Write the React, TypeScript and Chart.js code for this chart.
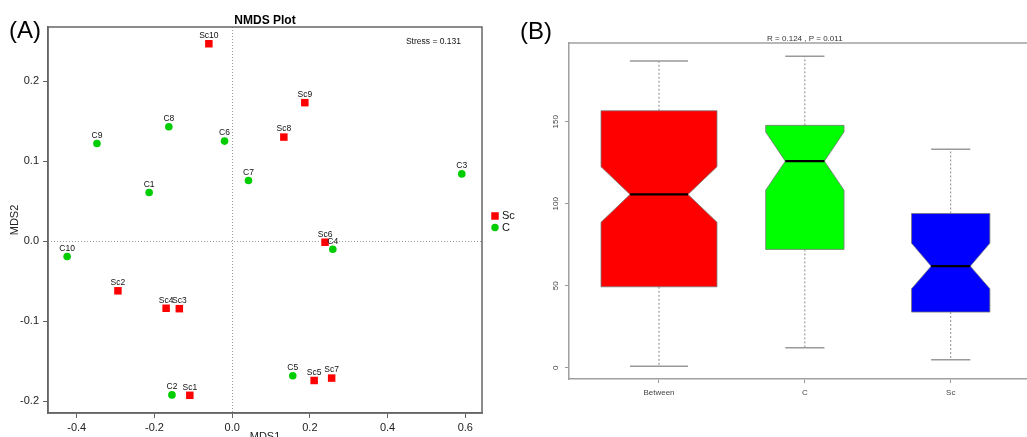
import React, { useEffect, useRef } from 'react';
import { Chart, registerables } from 'chart.js';
Chart.register(...registerables);

// ---------- Panel A data (NMDS) ----------
const scLabels = ['Sc1', 'Sc2', 'Sc3', 'Sc4', 'Sc5', 'Sc6', 'Sc7', 'Sc8', 'Sc9', 'Sc10'];
const scX = [-0.109, -0.294, -0.136, -0.170, 0.211, 0.239, 0.256, 0.133, 0.187, -0.060];
const scY = [-0.1925, -0.062, -0.0843, -0.0838, -0.174, -0.0013, -0.171, 0.130, 0.173, 0.2466];
const cLabels = ['C1', 'C2', 'C3', 'C4', 'C5', 'C6', 'C7', 'C8', 'C9', 'C10'];
const cX = [-0.2137, -0.155, 0.591, 0.259, 0.156, -0.0196, 0.042, -0.163, -0.348, -0.4247];
const cY = [0.0608, -0.192, 0.084, -0.010, -0.168, 0.125, 0.0758, 0.143, 0.122, -0.0192];
const nmdsXTicks = [-0.4, -0.2, 0.0, 0.2, 0.4, 0.6];
const nmdsYTicks = [-0.2, -0.1, 0.0, 0.1, 0.2];
const stressText = 'Stress = 0.131';

// ---------- Panel B data (ANOSIM boxplot) ----------
const boxCategories = ['Between', 'C', 'Sc'];
const whiskerLow = [1.0, 12.2, 5.0];
const q1 = [49.4, 72.2, 34.0];
const notchLow = [88.8, 108.3, 48.2];
const median = [105.7, 126.0, 62.0];
const notchHigh = [122.6, 143.8, 76.0];
const q3 = [156.7, 147.8, 94.1];
const whiskerHigh = [187.0, 190.0, 133.2];
const boxYTicks = [0, 50, 100, 150];
const anosimText = 'R = 0.124 , P = 0.011';

// styles
const FONT = '"Liberation Sans", Arial, Helvetica, sans-serif';
const RED = '#FF0000';
const GREEN = '#00CD00';
const BOX_COLORS = ['#FF0000', '#00FF00', '#0000FF'];
const BOX_WIDTH_UNITS = [0.795, 0.537, 0.537];

const nmdsPlugin = {
  id: 'nmdsExtras',
  beforeDatasetsDraw(chart: any) {
    const { ctx, chartArea: a, scales } = chart;
    const x0 = scales.x.getPixelForValue(0);
    const y0 = scales.y.getPixelForValue(0);
    ctx.save();
    ctx.strokeStyle = '#999';
    ctx.lineWidth = 1;
    ctx.setLineDash([1, 2]);
    ctx.beginPath();
    ctx.moveTo(Math.round(x0) + 0.5, a.top);
    ctx.lineTo(Math.round(x0) + 0.5, a.bottom);
    ctx.moveTo(a.left, Math.round(y0) + 0.5);
    ctx.lineTo(a.right, Math.round(y0) + 0.5);
    ctx.stroke();
    ctx.restore();
  },
  afterDatasetsDraw(chart: any) {
    const { ctx, chartArea: a } = chart;
    ctx.save();
    // point labels
    ctx.font = `8.5px ${FONT}`;
    ctx.fillStyle = '#111';
    ctx.textAlign = 'center';
    ctx.textBaseline = 'middle';
    const all = [scLabels, cLabels];
    chart.data.datasets.forEach((ds: any, di: number) => {
      const meta = chart.getDatasetMeta(di);
      meta.data.forEach((el: any, i: number) => {
        ctx.fillText(all[di][i], el.x, el.y - 8);
      });
    });
    // frame
    ctx.strokeStyle = '#666';
    ctx.lineWidth = 1.5;
    ctx.strokeRect(a.left, a.top, a.right - a.left, a.bottom - a.top);
    // title
    ctx.fillStyle = '#000';
    ctx.font = `bold 12px ${FONT}`;
    ctx.fillText('NMDS Plot', (a.left + a.right) / 2, 21);
    // stress
    ctx.font = `8.5px ${FONT}`;
    ctx.textAlign = 'right';
    ctx.fillStyle = '#111';
    ctx.fillText(stressText, 461, 42);
    // panel letter
    ctx.textAlign = 'left';
    ctx.fillStyle = '#000';
    ctx.font = `24px ${FONT}`;
    ctx.fillText('(A)', 9, 31);
    // axis titles
    ctx.font = `11px ${FONT}`;
    ctx.fillStyle = '#222';
    ctx.textAlign = 'center';
    ctx.textBaseline = 'top';
    ctx.fillText('MDS1', (a.left + a.right) / 2, 431);
    ctx.save();
    ctx.translate(15, (a.top + a.bottom) / 2);
    ctx.rotate(-Math.PI / 2);
    ctx.textBaseline = 'middle';
    ctx.fillText('MDS2', 0, 0);
    ctx.restore();
    // legend
    const lx = a.right + 13;
    ctx.fillStyle = RED;
    ctx.fillRect(lx - 3.75, 216 - 3.75, 7.5, 7.5);
    ctx.fillStyle = GREEN;
    ctx.beginPath();
    ctx.arc(lx, 227.5, 3.7, 0, Math.PI * 2);
    ctx.fill();
    ctx.fillStyle = '#111';
    ctx.textAlign = 'left';
    ctx.textBaseline = 'middle';
    ctx.font = `11px ${FONT}`;
    ctx.fillText('Sc', lx + 7, 216);
    ctx.fillText('C', lx + 7, 227.5);
    ctx.restore();
  },
};

const boxPlugin = {
  id: 'notchedBoxes',
  afterDatasetsDraw(chart: any) {
    const { ctx, chartArea: a, scales } = chart;
    const xs = scales.x;
    const ys = scales.y;
    ctx.save();
    // top frame line
    ctx.strokeStyle = '#a0a0a0';
    ctx.lineWidth = 1.5;
    ctx.beginPath();
    ctx.moveTo(a.left, a.top);
    ctx.lineTo(a.right, a.top);
    ctx.stroke();

    boxCategories.forEach((_, i) => {
      const cx = xs.getPixelForValue(i + 1);
      const hw = xs.getPixelForValue(i + 1 + BOX_WIDTH_UNITS[i] / 2) - cx;
      const py = (v: number) => ys.getPixelForValue(v);
      // whiskers
      ctx.strokeStyle = '#888';
      ctx.lineWidth = 1;
      ctx.setLineDash([2, 2]);
      ctx.beginPath();
      ctx.moveTo(cx, py(q3[i]));
      ctx.lineTo(cx, py(whiskerHigh[i]));
      ctx.moveTo(cx, py(q1[i]));
      ctx.lineTo(cx, py(whiskerLow[i]));
      ctx.stroke();
      ctx.setLineDash([]);
      ctx.strokeStyle = '#999';
      ctx.lineWidth = 1.5;
      ctx.beginPath();
      ctx.moveTo(cx - hw / 2, py(whiskerHigh[i]));
      ctx.lineTo(cx + hw / 2, py(whiskerHigh[i]));
      ctx.moveTo(cx - hw / 2, py(whiskerLow[i]));
      ctx.lineTo(cx + hw / 2, py(whiskerLow[i]));
      ctx.stroke();
      // notched box
      ctx.beginPath();
      ctx.moveTo(cx - hw, py(q1[i]));
      ctx.lineTo(cx - hw, py(notchLow[i]));
      ctx.lineTo(cx - hw / 2, py(median[i]));
      ctx.lineTo(cx - hw, py(notchHigh[i]));
      ctx.lineTo(cx - hw, py(q3[i]));
      ctx.lineTo(cx + hw, py(q3[i]));
      ctx.lineTo(cx + hw, py(notchHigh[i]));
      ctx.lineTo(cx + hw / 2, py(median[i]));
      ctx.lineTo(cx + hw, py(notchLow[i]));
      ctx.lineTo(cx + hw, py(q1[i]));
      ctx.closePath();
      ctx.fillStyle = BOX_COLORS[i];
      ctx.fill();
      ctx.strokeStyle = '#777';
      ctx.lineWidth = 0.8;
      ctx.stroke();
      // median
      ctx.strokeStyle = '#000';
      ctx.lineWidth = 2.2;
      ctx.beginPath();
      ctx.moveTo(cx - hw / 2, py(median[i]));
      ctx.lineTo(cx + hw / 2, py(median[i]));
      ctx.stroke();
    });

    // rotated y tick labels
    ctx.fillStyle = '#444';
    ctx.font = `8px ${FONT}`;
    ctx.textAlign = 'center';
    ctx.textBaseline = 'middle';
    boxYTicks.forEach((v) => {
      ctx.save();
      ctx.translate(a.left - 13, ys.getPixelForValue(v));
      ctx.rotate(-Math.PI / 2);
      ctx.fillText(String(v), 0, 0);
      ctx.restore();
    });
    // title
    ctx.fillStyle = '#333';
    ctx.fillText(anosimText, xs.getPixelForValue(2), 39);
    // panel letter
    ctx.fillStyle = '#000';
    ctx.font = `24px ${FONT}`;
    ctx.textAlign = 'left';
    ctx.fillText('(B)', 20, 32);
    ctx.restore();
  },
};

function NmdsChart() {
  const ref = useRef<HTMLCanvasElement>(null);
  useEffect(() => {
    if (!ref.current) return;
    const chart = new Chart(ref.current, {
      type: 'scatter',
      data: {
        datasets: [
          {
            label: 'Sc',
            data: scX.map((x, i) => ({ x, y: scY[i] })),
            pointStyle: 'rect',
            pointRadius: 5.3,
            backgroundColor: RED,
            borderWidth: 0,
          },
          {
            label: 'C',
            data: cX.map((x, i) => ({ x, y: cY[i] })),
            pointStyle: 'circle',
            pointRadius: 3.8,
            backgroundColor: GREEN,
            borderWidth: 0,
          },
        ],
      },
      options: {
        responsive: false,
        animation: false,
        layout: { padding: { top: 27, right: 48, left: 0, bottom: 0 } },
        plugins: { legend: { display: false }, tooltip: { enabled: false } },
        scales: {
          x: {
            type: 'linear',
            min: -0.474,
            max: 0.643,
            afterBuildTicks: (s: any) => { s.ticks = nmdsXTicks.map((v) => ({ value: v })); },
            afterFit: (s: any) => { s.height = 24; },
            grid: { drawOnChartArea: false, drawTicks: true, tickLength: 5, color: '#666' },
            border: { display: true, color: '#666', width: 1.5 },
            ticks: {
              font: { family: FONT, size: 11 },
              color: '#222',
              padding: 3,
              maxRotation: 0,
              callback: (v: any) => Number(v).toFixed(1),
            },
          },
          y: {
            type: 'linear',
            min: -0.2146,
            max: 0.2675,
            afterBuildTicks: (s: any) => { s.ticks = nmdsYTicks.map((v) => ({ value: v })); },
            afterFit: (s: any) => { s.width = 48; },
            grid: { drawOnChartArea: false, drawTicks: true, tickLength: 5, color: '#666' },
            border: { display: true, color: '#666', width: 1.5 },
            ticks: {
              font: { family: FONT, size: 11 },
              color: '#222',
              padding: 4,
              callback: (v: any) => Number(v).toFixed(1),
            },
          },
        },
      },
      plugins: [nmdsPlugin],
    });
    return () => chart.destroy();
  }, []);
  return <canvas ref={ref} width={530} height={437} style={{ position: 'absolute', left: 0, top: 0, display: 'block' }} />;
}

function BoxChart() {
  const ref = useRef<HTMLCanvasElement>(null);
  useEffect(() => {
    if (!ref.current) return;
    const chart = new Chart(ref.current, {
      type: 'scatter',
      data: {
        datasets: [
          {
            label: 'median',
            data: median.map((m, i) => ({ x: i + 1, y: m })),
            pointRadius: 0,
            backgroundColor: 'transparent',
          },
        ],
      },
      options: {
        responsive: false,
        animation: false,
        layout: { padding: { top: 43, right: 0, left: 0, bottom: 0 } },
        plugins: { legend: { display: false }, tooltip: { enabled: false } },
        scales: {
          x: {
            type: 'linear',
            min: 0.383,
            max: 3.523,
            afterBuildTicks: (s: any) => { s.ticks = boxCategories.map((_, i) => ({ value: i + 1 })); },
            afterFit: (s: any) => { s.height = 58; },
            grid: { drawOnChartArea: false, drawTicks: true, tickLength: 4, color: '#999' },
            border: { display: true, color: '#a0a0a0', width: 1.5 },
            ticks: {
              font: { family: FONT, size: 8 },
              color: '#444',
              padding: 5,
              maxRotation: 0,
              callback: (v: any) => boxCategories[Math.round(Number(v)) - 1] ?? '',
            },
          },
          y: {
            type: 'linear',
            min: -6.8,
            max: 198,
            afterBuildTicks: (s: any) => { s.ticks = boxYTicks.map((v) => ({ value: v })); },
            afterFit: (s: any) => { s.width = 69; },
            grid: { drawOnChartArea: false, drawTicks: true, tickLength: 4, color: '#999' },
            border: { display: true, color: '#a0a0a0', width: 1.5 },
            ticks: { display: false },
          },
        },
      },
      plugins: [boxPlugin],
    });
    return () => chart.destroy();
  }, []);
  return <canvas ref={ref} width={527} height={437} style={{ position: 'absolute', left: 500, top: 0, display: 'block' }} />;
}

export default function App() {
  return (
    <div style={{ position: 'absolute', left: 0, top: 0, width: 1027, height: 437, overflow: 'hidden', background: '#fff' }}>
      <NmdsChart />
      <BoxChart />
    </div>
  );
}
